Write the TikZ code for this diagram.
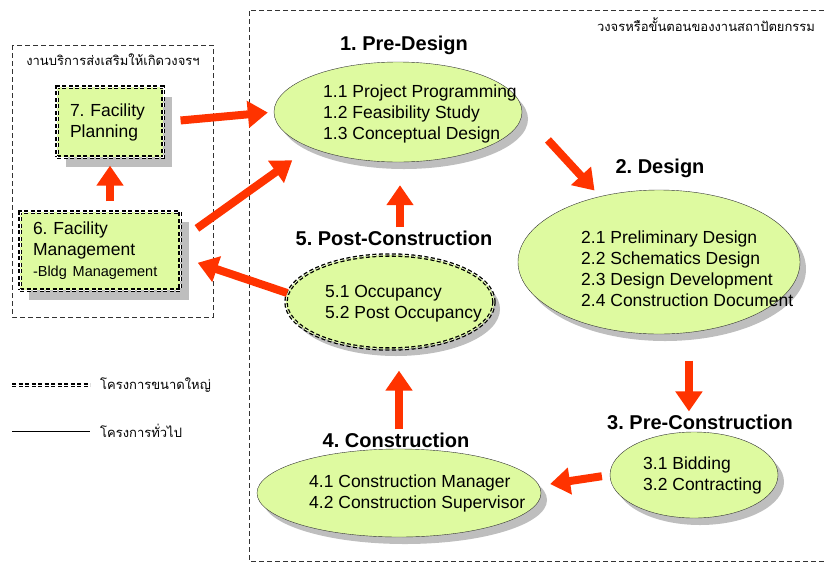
\documentclass[tikz,border=0pt]{standalone}
\usepackage{fontspec}
\setmainfont{Liberation Sans}
\newfontfamily\thaifont[Script=Thai]{Loma}
\usetikzlibrary{arrows.meta,shapes.geometric,shadows,positioning}
\definecolor{stagefill}{RGB}{222,250,160}
\definecolor{flowred}{RGB}{255,51,0}
\definecolor{shadowgray}{RGB}{190,190,190}

\begin{document}
\frenchspacing
\begin{tikzpicture}[x=1pt, y=-1pt,
    stage/.style={ellipse, draw=black!80, thin, fill=stagefill, inner sep=0pt,
        drop shadow={shadow xshift=6pt, shadow yshift=-7pt, fill=shadowgray, opacity=1}},
    twodash/.style={draw=black, line width=1.3pt, double=white, double distance=0.9pt, dash pattern=on 4pt off 2.5pt},
    bigstage/.style={stage, twodash, double=stagefill!60},
    facility/.style={rectangle, fill=stagefill, twodash, inner ysep=0pt, inner xsep=13pt, align=left,
        font=\fontsize{17.5}{21}\selectfont,
        drop shadow={shadow xshift=9pt, shadow yshift=-10pt, fill=shadowgray, opacity=1}},
    title/.style={font=\fontsize{20}{24}\selectfont\bfseries, inner sep=0pt},
    items/.style={font=\fontsize{17.5}{21}\selectfont, align=left, inner sep=0pt, anchor=west},
    thai/.style={font=\thaifont\fontsize{13}{16}\selectfont, inner sep=0pt},
    frame/.style={draw=black!80, dash pattern=on 5pt off 3pt},
    flow/.style={draw=flowred, line width=8pt, -{Triangle[length=20pt, width=26pt]}}]
    \useasboundingbox (0,0) rectangle (824,563);

    % 1. frames
    \draw[frame] (12,45) rectangle (213,317);
    \draw[frame] (824,10) -- (249,10) -- (249,561) -- (824,561);
    \node[thai] (th1) at (706,25) {วงจรหรือขั้นตอนของงานสถาปัตยกรรม};
    \node[thai] (th2) at (113,60) {งานบริการส่งเสริมให้เกิดวงจรฯ};

    % 2. stages of the cycle
    \node[stage, minimum width=248pt, minimum height=100pt] (n1) at (398,112) {};
    \node[stage, minimum width=282pt, minimum height=144pt] (n2) at (659,262) {};
    \node[stage, minimum width=168pt, minimum height=86pt] (n3) at (694,475) {};
    \node[stage, minimum width=284pt, minimum height=88pt] (n4) at (399,493) {};
    \node[bigstage, minimum width=208pt, minimum height=94pt] (n5) at (390,302) {};

    \node[title] (t1) at (404,45) {1. Pre-Design};
    \node[title] (t2) at (660,168) {2. Design};
    \node[title] (t3) at (700,422) {3. Pre-Construction};
    \node[title] (t4) at (396,440) {4. Construction};
    \node[title] (t5) at (394,238) {5. Post-Construction};

    \node[items] (i1) at (323,114) {1.1 Project Programming\\1.2 Feasibility Study\\1.3 Conceptual Design};
    \node[items] (i2) at (581,269) {2.1 Preliminary Design\\2.2 Schematics Design\\2.3 Design Development\\2.4 Construction Document};
    \node[items] (i3) at (643,475.5) {3.1 Bidding\\3.2 Contracting};
    \node[items] (i4) at (309,493.5) {4.1 Construction Manager\\4.2 Construction Supervisor};
    \node[items] (i5) at (325,304) {5.1 Occupancy\\5.2 Post Occupancy};

    % 3. facility boxes
    \node[facility, text width=80pt, minimum height=70pt] (n7) at (110,122) {7. Facility\\Planning};
    \node[facility, text width=134pt, minimum height=78pt] (n6) at (100,251)
        {6. Facility\\Management\\{\fontsize{14.5}{18}\selectfont -Bldg Management}};

    % 4. arrows
    \draw[flow, shorten <=17pt, shorten >=6pt] (n7.east) -- (n1.west);
    \draw[flow, shorten <=20pt, shorten >=22pt] ([yshift=11pt]n6.east) -- (n1.202);
    \draw[flow, shorten <=38pt, shorten >=8pt] (n1.east) -- (n2.132);
    \draw[flow, shorten <=28pt, shorten >=3pt] (n2.293) -- (n2.293 |- t3.north);
    \draw[flow, shorten <=8pt, shorten >=11pt] (n3.west) -- (n4.3);
    \draw[flow, shorten <=3pt, shorten >=21pt] ([xshift=3pt]t4.north) -- ([xshift=3pt]t4.north |- n5.south);
    \draw[flow, shorten <=3pt, shorten >=23pt] ([xshift=6pt]t5.north) -- ([xshift=6pt]t5.north |- n1.south);
    \draw[flow, shorten >=18pt] (n5.175) -- ([yshift=-6pt]n6.east);
    \draw[flow, shorten <=10pt, shorten >=8pt] (n6.north -| n7.south) -- (n7.south);

    % 5. legend
    \node[thai, anchor=west] (lg1) at (100,385) {โครงการขนาดใหญ่};
    \node[thai, anchor=west] (lg2) at (100,431) {โครงการทั่วไป};
    \draw[twodash] ([xshift=-88pt]lg1.west) -- ([xshift=-10pt]lg1.west);
    \draw[black] ([xshift=-88pt]lg2.west) -- ([xshift=-10pt]lg2.west);
\end{tikzpicture}
\end{document}
